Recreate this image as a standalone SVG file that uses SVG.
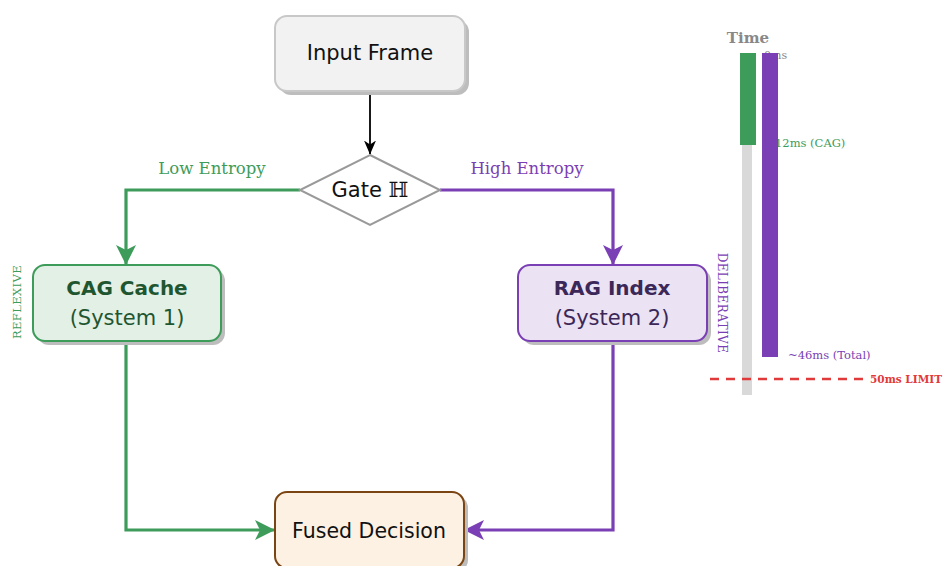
<svg xmlns="http://www.w3.org/2000/svg" width="944" height="566" viewBox="0 0 944 566">
<style>
.sh{fill:#bdbdbd}
.lbl{font-family:"DejaVu Sans","Liberation Sans",sans-serif;text-anchor:middle}
.ser{font-family:"DejaVu Serif","Liberation Serif",serif}
.g{stroke:#3d9c5a;stroke-width:3.2;fill:none}
.p{stroke:#7a3fb4;stroke-width:3.2;fill:none}
</style>
<defs>
<marker id="ag" viewBox="0 0 20 20" refX="19" refY="10" markerWidth="20" markerHeight="20" markerUnits="userSpaceOnUse" orient="auto"><path d="M0,0 L20,10 L0,20 L5,10 Z" fill="#3d9c5a"/></marker>
<marker id="ap" viewBox="0 0 20 20" refX="19" refY="10" markerWidth="20" markerHeight="20" markerUnits="userSpaceOnUse" orient="auto"><path d="M0,0 L20,10 L0,20 L5,10 Z" fill="#7a3fb4"/></marker>
<marker id="ak" viewBox="0 0 14 12" refX="13.5" refY="6" markerWidth="14" markerHeight="12" markerUnits="userSpaceOnUse" orient="auto"><path d="M0,0 L14,6 L0,12 L4,6 Z" fill="#000"/></marker>
</defs>

<g id="connectors">
<path d="M370,92 L370,154" stroke="#000" stroke-width="1.8" fill="none" marker-end="url(#ak)"/>
<path class="g" d="M300,190 L126,190 L126,264" marker-end="url(#ag)"/>
<path class="p" d="M440,190 L613,190 L613,264" marker-end="url(#ap)"/>
<path class="g" d="M126,341 L126,530 L274,530" marker-end="url(#ag)"/>
<path class="p" d="M613,341 L613,530 L465,530" marker-end="url(#ap)"/>
<text class="ser" x="212" y="174" font-size="16.5" fill="#3d9c5a" text-anchor="middle">Low Entropy</text>
<text class="ser" x="527" y="174" font-size="16.5" fill="#7a3fb4" text-anchor="middle">High Entropy</text>
</g>

<g id="input">
<rect class="sh" x="279" y="20" width="190" height="75" rx="12"/>
<rect x="275" y="16" width="190" height="75" rx="12" fill="#f2f2f2" stroke="#c8c8c8" stroke-width="2"/>
<text class="lbl" x="370" y="60" font-size="21" fill="#111">Input Frame</text>
</g>

<g id="gate">
<polygon points="370,155 440,190 370,225 300,190" fill="#fff" stroke="#999" stroke-width="2"/>
<text class="lbl" x="370" y="197" font-size="21" fill="#111">Gate <tspan font-family="DejaVu Serif, serif">ℍ</tspan></text>
</g>

<g id="cag">
<rect class="sh" x="37" y="269" width="188" height="76" rx="12"/>
<rect x="33" y="265" width="188" height="76" rx="12" fill="#e2f0e6" stroke="#3d9c5a" stroke-width="2"/>
<text class="lbl" x="127" y="295" font-size="20" font-weight="bold" fill="#1f5630">CAG Cache</text>
<text class="lbl" x="127" y="325" font-size="21" fill="#1f5630">(System 1)</text>
<text class="ser" transform="translate(21,302) rotate(-90)" font-size="11.5" fill="#3d9c5a" text-anchor="middle" letter-spacing="0.4">REFLEXIVE</text>
</g>

<g id="rag">
<rect class="sh" x="522" y="269" width="189" height="76" rx="12"/>
<rect x="518" y="265" width="189" height="76" rx="12" fill="#ebe2f3" stroke="#7a3fb4" stroke-width="2"/>
<text class="lbl" x="612" y="295" font-size="20" font-weight="bold" fill="#3b2858">RAG Index</text>
<text class="lbl" x="612" y="325" font-size="21" fill="#3b2858">(System 2)</text>
<text class="ser" transform="translate(718,303) rotate(90)" font-size="12" fill="#7a3fb4" text-anchor="middle" letter-spacing="0.4">DELIBERATIVE</text>
</g>

<g id="fused">
<rect class="sh" x="279" y="496" width="189" height="76" rx="12"/>
<rect x="275" y="492" width="189" height="76" rx="12" fill="#fdf1e4" stroke="#7a4512" stroke-width="2"/>
<text class="lbl" x="369" y="538" font-size="20.5" fill="#111">Fused Decision</text>
</g>

<g id="timeline">
<text class="ser" x="748" y="43" font-size="15" font-weight="bold" fill="#888" text-anchor="middle">Time</text>
<rect x="742" y="55" width="10" height="340" fill="#d9d9d9"/>
<text class="ser" x="764" y="59" font-size="11" fill="#888">0ms</text>
<text class="ser" x="775" y="147" font-size="11.5" fill="#3d9c5a">12ms (CAG)</text>
<rect x="740" y="53" width="16" height="92" fill="#3d9c5a"/>
<rect x="762" y="53" width="16" height="304" fill="#7a3fb4"/>
<text class="ser" x="788" y="359" font-size="11.5" fill="#7a3fb4">~46ms (Total)</text>
<line x1="710" y1="379" x2="864" y2="379" stroke="#e03a3a" stroke-width="2.4" stroke-dasharray="9,7"/>
<text class="ser" x="870" y="383" font-size="11" font-weight="bold" fill="#e03a3a" textLength="72" lengthAdjust="spacingAndGlyphs">50ms LIMIT</text>
</g>
</svg>
